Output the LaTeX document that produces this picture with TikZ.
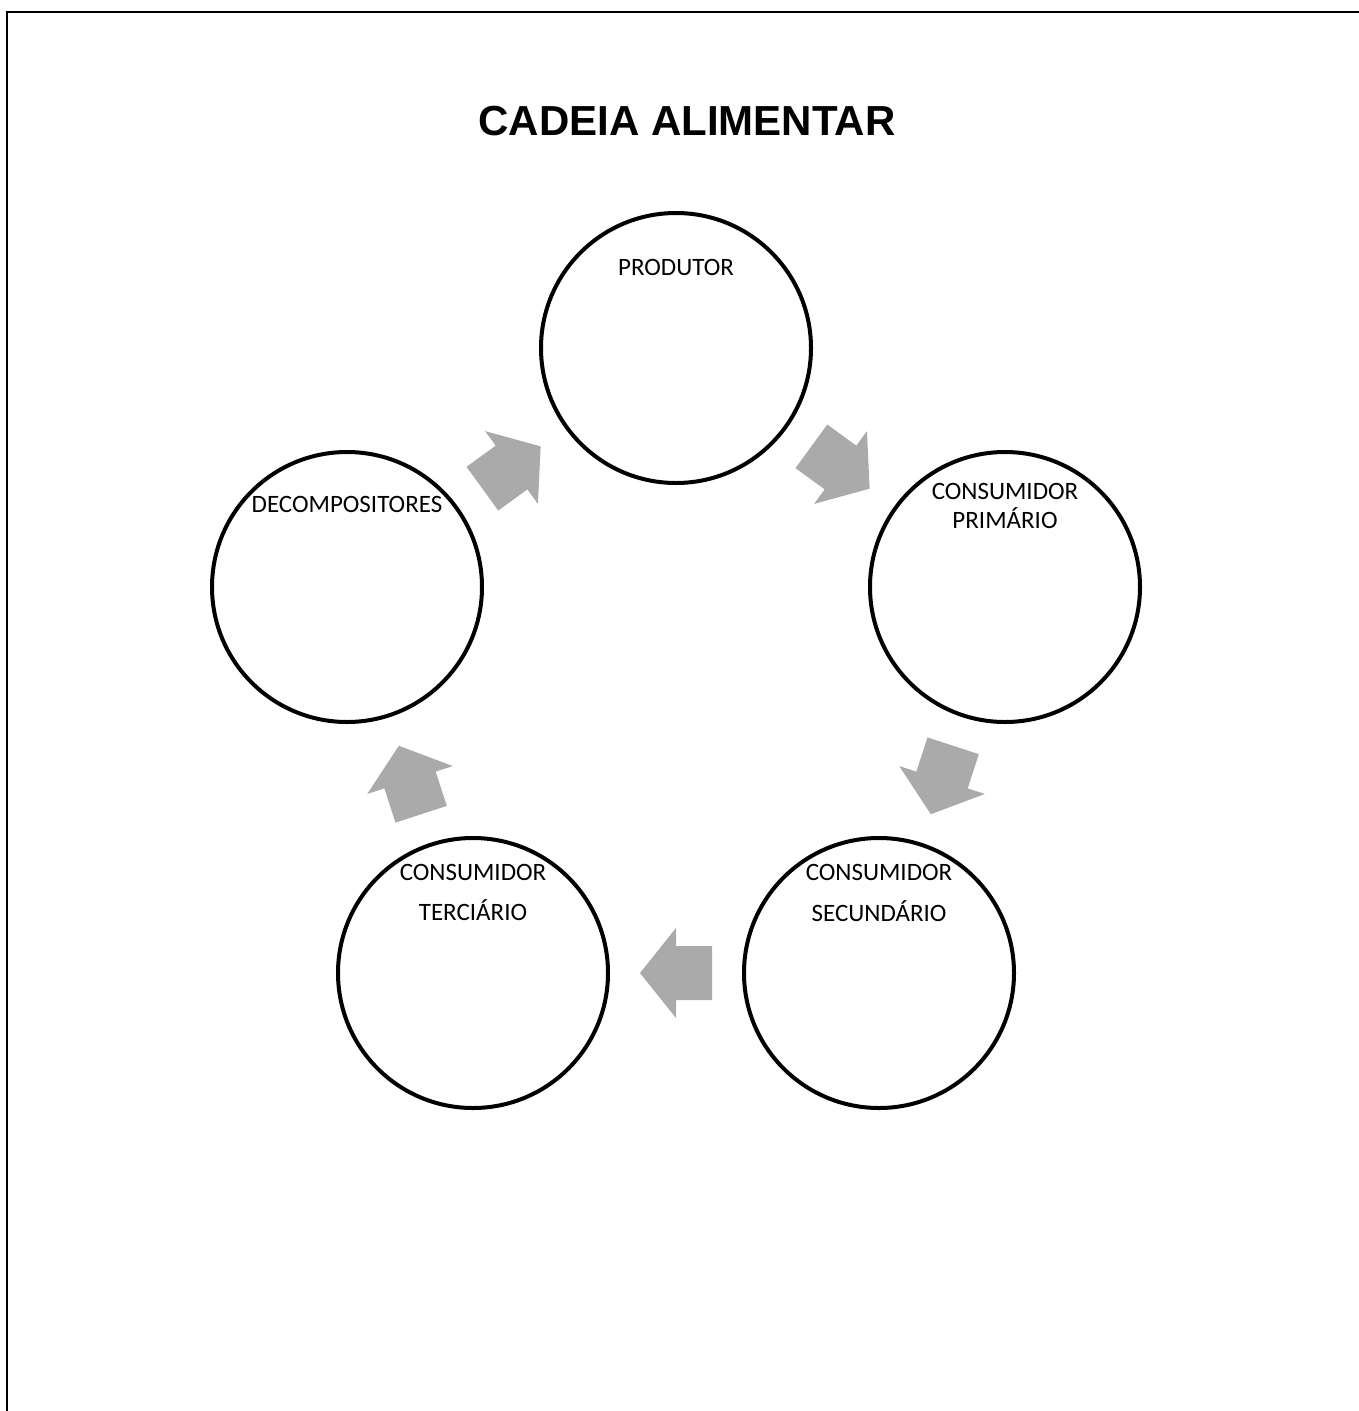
\documentclass[tikz,border=0pt]{standalone}
\usepackage{fontspec}
\setmainfont{Carlito}
\newfontfamily\titlefam{Liberation Sans}
\usetikzlibrary{calc}
\definecolor{arrowgray}{RGB}{170,170,170}
\newcommand\cyclearrow[2]{%
  \path let \p1=($(#2)-(#1)$) in \pgfextra{\pgfmathsetmacro\arrang{atan2(\y1,\x1)}\global\let\arrang\arrang};
  \begin{scope}[shift={($(#1)!0.5!(#2)$)}, rotate=\arrang]
    \fill[arrowgray] (-36,-27) -- (0,-27) -- (0,-45) -- (36,0) -- (0,45) -- (0,27) -- (-36,27) -- cycle;
  \end{scope}}
\begin{document}
\begin{tikzpicture}[x=1pt,y=-1pt,
  circ/.style={draw=black, line width=4pt, circle, minimum size=270pt, inner sep=0pt},
  lbl/.style={anchor=base, inner sep=0pt, font=\fontsize{25}{30}\selectfont},
  ttl/.style={anchor=base, inner sep=0pt, font=\titlefam\bfseries\fontsize{42}{50}\selectfont}]
\useasboundingbox (0,0) rectangle (1359,1411);
\draw[line width=2.5pt] (7,1411) -- (7,12) -- (1359,12);
\node[ttl] (title) at (687,135) {CADEIA ALIMENTAR};
% circles
\node[circ] (P)  at (676,348) {};
\node[circ] (C1) at (1005,587) {};
\node[circ] (C2) at (879,973) {};
\node[circ] (C3) at (473,973) {};
\node[circ] (D)  at (347,587) {};
% labels
\node[lbl] (tP) at (676,275) {PRODUTOR};
\node[lbl] (tC1a) at (1005,499) {CONSUMIDOR};
\node[lbl] (tC1b) at (1005,528) {PRIMÁRIO};
\node[lbl] (tC2a) at (879,880) {CONSUMIDOR};
\node[lbl] (tC2b) at (879,921) {SECUNDÁRIO};
\node[lbl] (tC3a) at (473,880) {CONSUMIDOR};
\node[lbl] (tC3b) at (473,920) {TERCIÁRIO};
\node[lbl] (tD) at (347,512) {DECOMPOSITORES};
% arrows
\cyclearrow{P}{C1}
\cyclearrow{C1}{C2}
\cyclearrow{C2}{C3}
\cyclearrow{C3}{D}
\cyclearrow{D}{P}
\end{tikzpicture}
\end{document}
